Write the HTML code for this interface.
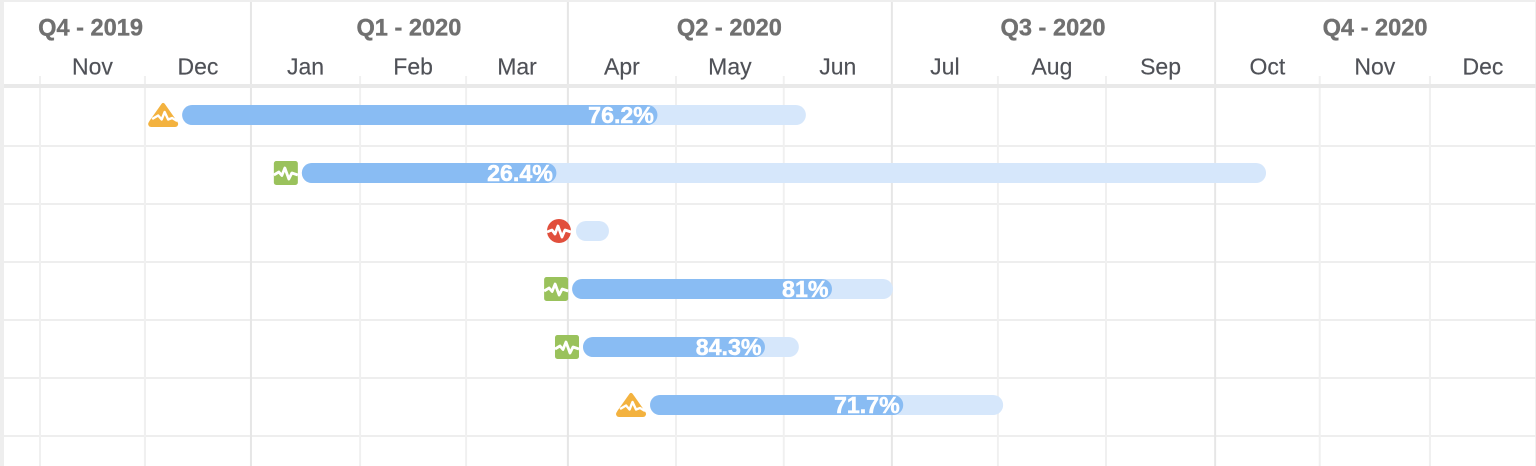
<!DOCTYPE html>
<html lang="en">
<head>
<meta charset="utf-8">
<title>Quarterly Gantt timeline</title>
<style>
html,body{margin:0;padding:0;background:#fff;}
body{width:1536px;height:466px;overflow:hidden;}
svg{display:block;font-family:"Liberation Sans",sans-serif;}
.q{font-size:23.6px;font-weight:700;fill:#707070;stroke:#707070;stroke-width:.35px;text-anchor:middle;}
.m{font-size:23px;fill:#4f5157;stroke:#4f5157;stroke-width:.15px;text-anchor:middle;}
.p{font-size:23.2px;font-weight:700;fill:#fff;stroke:#fff;stroke-width:.5px;text-anchor:end;}
</style>
</head>
<body>
<svg id="chart" xmlns="http://www.w3.org/2000/svg" width="1536" height="466" viewBox="0 0 1536 466"></svg>
<script>
// Axis values are in days from the start of the first visible month
const monthLabels = ['Nov','Dec','Jan','Feb','Mar','Apr','May','Jun','Jul','Aug','Sep','Oct','Nov','Dec'];
const monthStarts = [0,29.9,60.1,91.2,121.4,150.4,181.2,211.9,242.7,272.9,303.7,334.8,364.6,396];
const quarterLabels = ['Q4 - 2019','Q1 - 2020','Q2 - 2020','Q3 - 2020','Q4 - 2020'];
const quarterStarts = [-31,60.1,150.4,242.7,334.8];
const domainEnd = 426.2;
const taskStarts = [40.5,74.6,152.7,151.6,154.7,173.8];
const taskEnds = [218.2,349.3,162.1,243,216.2,274.4];
const taskProgress = [76.2,26.4,0,81,84.3,71.7];
const taskProgressLabels = ['76.2%','26.4%','','81%','84.3%','71.7%'];
const taskStatus = ['warning','good','critical','good','good','warning'];

const svg = document.getElementById('chart');
const NS = 'http://www.w3.org/2000/svg';
const PX_PER_DAY = 3.51, X0 = 40;
const ROW_TOP = 86, ROW_H = 58, ROW_COUNT = 7, BAR_H = 20;
const x = d => X0 + d * PX_PER_DAY;
const rowY = i => ROW_TOP + ROW_H * i + 29;

function add(parent, tag, attrs, text) {
  const el = document.createElementNS(NS, tag);
  for (const k in attrs) el.setAttribute(k, attrs[k]);
  if (text !== undefined) el.textContent = text;
  parent.appendChild(el);
  return el;
}
function rect(parent, a, b, c, d, fill, rx) {
  return add(parent, 'rect', {x: a, y: b, width: c, height: d, fill: fill, rx: rx || 0});
}

// Frame
const frame = add(svg, 'g', {});


rect(frame, 0, 0, 1536, 2, '#eeeeee');
rect(frame, 0, 0, 4, 466, '#eeeeee');
rect(frame, 1535, 0, 1, 466, '#f0f0f0');

// Row lines
const rowGrid = add(svg, 'g', {});


for (let i = 1; i < ROW_COUNT; i++) {
  rect(rowGrid, 4, ROW_TOP + ROW_H * i - 1 + 2, 1532, 2, '#eeeeee');
}

// Month lines
const monthGrid = add(svg, 'g', {});


monthStarts.forEach(d => {
  if (!quarterStarts.includes(d)) rect(monthGrid, x(d) - 1, 76, 2, 390, '#f0f0f0');
});

// Quarter lines
const quarterGrid = add(svg, 'g', {});


quarterStarts.forEach(d => {
  if (x(d) > 0) rect(quarterGrid, x(d) - 1, 2, 2, 464, '#e6e6e6');
});

// Header divider
const divider = rect(svg, 4, 84, 1532, 4, '#e9e9e9');



// Quarter labels
quarterLabels.forEach((label, i) => {
  const end = i + 1 < quarterStarts.length ? quarterStarts[i + 1] : domainEnd;
  const t = add(svg, 'text', {class: 'q', x: (x(quarterStarts[i]) + x(end)) / 2 - 0.5, y: 35.5}, label);
  
  
});

// Month labels
monthLabels.forEach((label, i) => {
  const end = i + 1 < monthStarts.length ? monthStarts[i + 1] : domainEnd;
  const t = add(svg, 'text', {class: 'm', x: (x(monthStarts[i]) + x(end)) / 2, y: 74.5}, label);
  
  
});

function drawIcon(parent, status, cx, cy) {
  const g = add(parent, 'g', {transform: 'translate(' + cx + ' ' + cy + ')'});
  
  
  const line = {fill: 'none', stroke: '#fff', 'stroke-width': 2.8, 'stroke-linejoin': 'round'};
  if (status === 'warning') {
    add(g, 'polygon', {points: '0,-10 12,7 -12,7', fill: '#f3b23f', stroke: '#f3b23f', 'stroke-width': 4, 'stroke-linejoin': 'round'});
    rect(g, -15, 6, 30, 6, '#f3b23f', 3);
    add(g, 'path', {d: 'M-11 4 L-5 0.500 L-1.500 4.500 L1.500 -3 L5 4.500 L9 3 L14 6', fill: 'none', stroke: '#fff', 'stroke-width': 2.4, 'stroke-linejoin': 'round'});
  } else if (status === 'good') {
    rect(g, -12, -12, 24, 24, '#9ac25c', 2.5);
    add(g, 'path', Object.assign({d: 'M-12 2 L-7 -1 L-4 2.500 L-1 -5 L3 6 L6 0 L12 2'}, line));
  } else {
    add(g, 'circle', {cx: 0, cy: 0, r: 12, fill: '#e14f3c'});
    add(g, 'path', Object.assign({d: 'M-12 1 L-7 -1 L-4 3 L-1 -5 L3 6 L6 -1 L12 1'}, line));
  }
}

// Task bars
const iconOffset = {warning: -19, good: -16, critical: -17};
taskStarts.forEach((start, i) => {
  const y0 = rowY(i) - BAR_H / 2;
  const x0 = x(start), x1 = x(taskEnds[i]);
  const w = x1 - x0;
  const g = add(svg, 'g', {});
  
  
  const track = rect(g, x0, y0, w, BAR_H, '#d6e7fb', 10);
  
  
  if (taskProgress[i] > 0) {
    const fw = w * taskProgress[i] / 100;
    const fill = rect(g, x0, y0, fw, BAR_H, '#89bcf3', 10);
    
    
    const t = add(g, 'text', {class: 'p', x: x0 + fw - 3.5, y: rowY(i) + 8}, taskProgressLabels[i]);
    
    
  }
  drawIcon(g, taskStatus[i], x0 + iconOffset[taskStatus[i]], rowY(i));
});
</script>
</body>
</html>
